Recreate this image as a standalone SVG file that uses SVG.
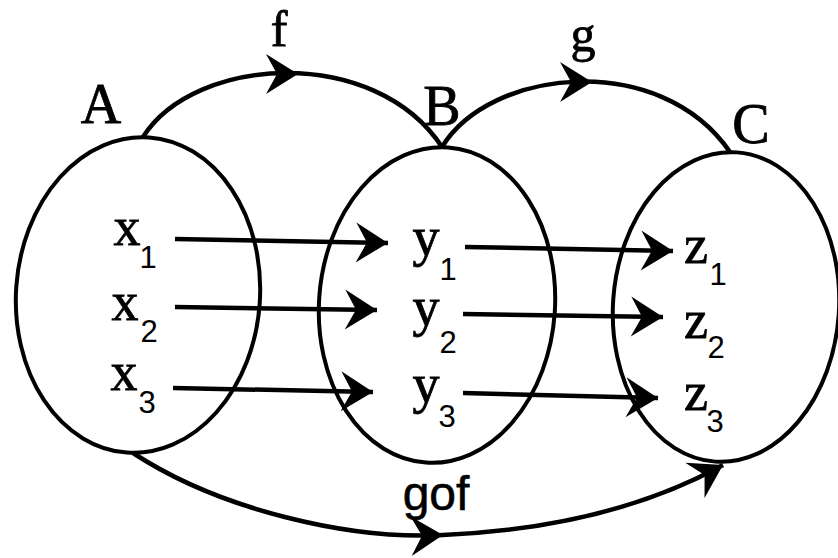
<svg xmlns="http://www.w3.org/2000/svg" xmlns:xlink="http://www.w3.org/1999/xlink" width="838" height="558" viewBox="0 0 838 558">
<style>
.set{fill:none;stroke:#000;stroke-width:4}
.con{fill:none;stroke:#000;stroke-width:4.5}
.lbl{font-family:"Liberation Serif","Times New Roman",serif;font-size:56px;fill:#000;stroke:#000;stroke-width:0.8;text-anchor:middle}
.fg{font-family:"Liberation Serif","Times New Roman",serif;font-size:50px;fill:#000;stroke:#000;stroke-width:0.8;text-anchor:middle}
.el{font-family:"Liberation Serif","Times New Roman",serif;font-size:54px;fill:#000;stroke:#000;stroke-width:0.8;text-anchor:middle}
.sub{font-family:"Liberation Sans",Arial,sans-serif;font-size:31px;fill:#000;text-anchor:middle}
.fn{font-family:"Liberation Sans",Arial,sans-serif;font-size:48px;fill:#000;stroke:#000;stroke-width:0.6;text-anchor:middle}
</style>
<defs>
<path id="ah" d="M0,0 L-32,-20 L-21,0 L-32,20 Z" fill="#000"/>
<marker id="arr" markerUnits="userSpaceOnUse" orient="auto" refX="0" refY="0" markerWidth="40" markerHeight="44" overflow="visible">
<path d="M0,0 L-32,-20 L-21,0 L-32,20 Z" fill="#000"/>
</marker>
</defs>
<rect width="838" height="558" fill="#fff"/>
<g id="setA">
<ellipse class="set" cx="138" cy="295" rx="122" ry="158" transform="rotate(4 138 295)"/>
<text class="lbl" x="101" y="123">A</text>
<text class="el" x="127" y="245">x</text><text class="sub" x="148" y="268">1</text>
<text class="el" x="125" y="320">x</text><text class="sub" x="149" y="342">2</text>
<text class="el" x="124" y="390">x</text><text class="sub" x="147" y="413">3</text>
</g>
<g id="setB">
<ellipse class="set" cx="437" cy="305" rx="118" ry="158" transform="rotate(4 437 305)"/>
<text class="lbl" x="442" y="125">B</text>
<text class="el" x="426" y="255">y</text><text class="sub" x="448" y="280">1</text>
<text class="el" x="426" y="325">y</text><text class="sub" x="448" y="353">2</text>
<text class="el" x="426" y="402">y</text><text class="sub" x="447" y="427">3</text>
</g>
<g id="setC">
<ellipse class="set" cx="726" cy="307" rx="113" ry="155" transform="rotate(4 726 307)"/>
<text class="lbl" x="751" y="143">C</text>
<text class="el" x="696" y="263">z</text><text class="sub" x="718" y="285">1</text>
<text class="el" x="696" y="338">z</text><text class="sub" x="716" y="358">2</text>
<text class="el" x="696" y="410">z</text><text class="sub" x="715" y="432">3</text>
</g>
<g id="connectors">
<path class="con" d="M143,137 C195,55 375,45 442,147"/>
<use xlink:href="#ah" href="#ah" transform="translate(298,74)"/>
<text class="fg" x="279" y="46">f</text>
<path class="con" d="M442,147 C490,68 660,50 730,152"/>
<use xlink:href="#ah" href="#ah" transform="translate(592,82)"/>
<text class="fg" x="583" y="51">g</text>
<path class="con" d="M133,453 C220,510 350,540 443,535 C560,530 650,505 723,465" marker-end="url(#arr)"/>
<use xlink:href="#ah" href="#ah" transform="translate(443,535) rotate(-2)"/>
<text class="fn" x="436" y="510">gof</text>
<path class="con" d="M175,239 L388,243" marker-end="url(#arr)"/>
<path class="con" d="M175,307 L377,310" marker-end="url(#arr)"/>
<path class="con" d="M173,388 L373,392" marker-end="url(#arr)"/>
<path class="con" d="M465,247 L673,251" marker-end="url(#arr)"/>
<path class="con" d="M463,314 L663,317" marker-end="url(#arr)"/>
<path class="con" d="M463,393 L658,398" marker-end="url(#arr)"/>
</g>
</svg>
